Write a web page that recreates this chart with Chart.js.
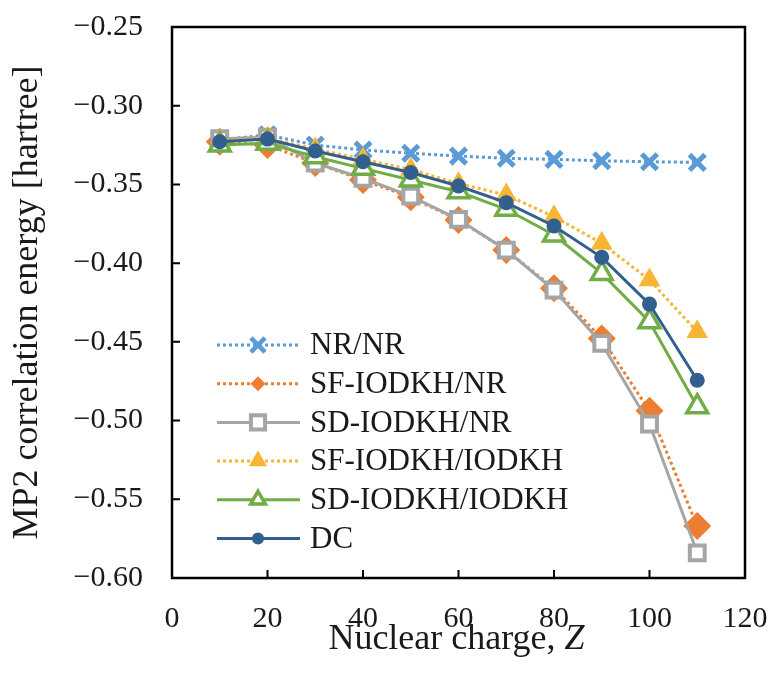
<!DOCTYPE html>
<html>
<head>
<meta charset="utf-8">
<script src="https://cdn.jsdelivr.net/npm/chart.js"></script>
<style>
  html, body { margin: 0; padding: 0; background: #fff; }
  #wrap { width: 771px; height: 673px; }
</style>
</head>
<body>
<div id="wrap"><canvas id="chart" width="771" height="673"></canvas></div>
<script>
// nuclear charge Z and MP2 correlation energies (hartree) per method
const charge = [10, 20, 30, 40, 50, 60, 70, 80, 90, 100, 110];
const nrNr      = [-0.3218, -0.3185, -0.3250, -0.3281, -0.3302, -0.3320, -0.3334, -0.3341, -0.3350, -0.3356, -0.3360];
const sfNr      = [-0.3229, -0.3250, -0.3364, -0.3472, -0.3582, -0.3726, -0.3917, -0.4160, -0.4478, -0.4938, -0.5670];
const sdNr      = [-0.3210, -0.3200, -0.3364, -0.3461, -0.3574, -0.3722, -0.3917, -0.4171, -0.4510, -0.5022, -0.5840];
const sfIodkh   = [-0.3225, -0.3205, -0.3275, -0.3340, -0.3405, -0.3495, -0.3567, -0.3705, -0.3874, -0.4107, -0.4436];
const sdIodkh   = [-0.3250, -0.3239, -0.3324, -0.3398, -0.3472, -0.3546, -0.3658, -0.3821, -0.4065, -0.4372, -0.4912];
const dc        = [-0.3229, -0.3212, -0.3288, -0.3356, -0.3424, -0.3510, -0.3616, -0.3764, -0.3963, -0.4260, -0.4744];

const xTicks = [0, 20, 40, 60, 80, 100, 120];
const yTicks = [-0.25, -0.30, -0.35, -0.40, -0.45, -0.50, -0.55, -0.60];

const serif = "'Liberation Serif', 'Times New Roman', serif";
const textColor = '#1a1a1a';

function pts(arr) {
  return arr.map((v, i) => ({ x: charge[i], y: v }));
}

// series styling: line colour, dash, marker shape, sizes in plot and legend
const series = [
  { label: 'NR/NR', data: nrNr, color: '#5B9BD5', dash: [3, 3], style: 'crossRot',
    radius: 11, bw: 5, fill: '#5B9BD5', lgRadius: 10, lgBw: 4.5 },
  { label: 'SF-IODKH/NR', data: sfNr, color: '#ED7D31', dash: [3, 3], style: 'rectRot',
    radius: 14, bw: 0, fill: '#ED7D31', lgRadius: 7.5, lgBw: 0 },
  { label: 'SD-IODKH/NR', data: sdNr, color: '#A5A5A5', dash: [], style: 'rect',
    radius: 10.5, bw: 4, fill: '#FFFFFF', lgRadius: 10, lgBw: 4 },
  { label: 'SF-IODKH/IODKH', data: sfIodkh, color: '#F6B532', dash: [3, 3], style: 'triangle',
    radius: 12.5, bw: 0, fill: '#F6B532', lgRadius: 10.5, lgBw: 0 },
  { label: 'SD-IODKH/IODKH', data: sdIodkh, color: '#70AD47', dash: [], style: 'triangle',
    radius: 12, bw: 3.5, fill: '#FFFFFF', lgRadius: 8.5, lgBw: 3.5 },
  { label: 'DC', data: dc, color: '#335F8F', dash: [], style: 'circle',
    radius: 7.5, bw: 0, fill: '#335F8F', lgRadius: 6, lgBw: 0 }
];

const datasets = series.map((s, i) => ({
  label: s.label,
  data: pts(s.data),
  borderColor: s.color,
  borderWidth: 3,
  borderDash: s.dash,
  pointStyle: s.style,
  pointRadius: s.radius,
  pointHoverRadius: s.radius,
  pointBorderWidth: s.bw,
  pointBorderColor: s.color,
  pointBackgroundColor: s.fill,
  tension: 0,
  fill: false,
  order: series.length - i
}));

// black box round the plot with short inward tick marks
const framePlugin = {
  id: 'frame',
  beforeDatasetsDraw(chart) {
    const { ctx, chartArea: a, scales } = chart;
    ctx.save();
    ctx.strokeStyle = '#000';
    ctx.lineWidth = 2.5;
    ctx.setLineDash([]);
    ctx.strokeRect(a.left, a.top, a.right - a.left, a.bottom - a.top);
    ctx.lineWidth = 2;
    ctx.beginPath();
    yTicks.forEach(v => {
      const y = scales.y.getPixelForValue(v);
      ctx.moveTo(a.left, y);
      ctx.lineTo(a.left + 8, y);
    });
    xTicks.forEach(v => {
      const x = scales.x.getPixelForValue(v);
      ctx.moveTo(x, a.bottom);
      ctx.lineTo(x, a.bottom - 8);
    });
    ctx.stroke();
    ctx.restore();
  }
};

// x axis title, with the symbol Z set in italics
const xTitlePlugin = {
  id: 'xTitle',
  afterDraw(chart) {
    const { ctx, chartArea: a } = chart;
    const plain = 'Nuclear charge, ';
    const sym = 'Z';
    ctx.save();
    ctx.fillStyle = textColor;
    ctx.textBaseline = 'alphabetic';
    ctx.textAlign = 'left';
    ctx.font = '36px ' + serif;
    const w1 = ctx.measureText(plain).width;
    ctx.font = 'italic 36px ' + serif;
    const w2 = ctx.measureText(sym).width;
    const x = (a.left + a.right) / 2 - (w1 + w2) / 2 - 2;
    const y = 649;
    ctx.font = '36px ' + serif;
    ctx.fillText(plain, x, y);
    ctx.font = 'italic 36px ' + serif;
    ctx.fillText(sym, x + w1, y);
    ctx.restore();
  }
};

// legend block inside the plot area
const legendPlugin = {
  id: 'innerLegend',
  afterDraw(chart) {
    const { ctx } = chart;
    const x0 = 217, x1 = 300, mx = 258, tx = 310;
    const top = 345, step = 38.7;
    ctx.save();
    series.forEach((s, i) => {
      const y = top + i * step;
      ctx.strokeStyle = s.color;
      ctx.lineWidth = 3;
      ctx.setLineDash(s.dash);
      ctx.beginPath();
      ctx.moveTo(x0, y);
      ctx.lineTo(x1, y);
      ctx.stroke();
      ctx.setLineDash([]);
      ctx.fillStyle = s.fill;
      ctx.strokeStyle = s.color;
      ctx.lineWidth = s.lgBw;
      Chart.helpers.drawPoint(ctx, {
        pointStyle: s.style, radius: s.lgRadius, rotation: 0, borderWidth: s.lgBw
      }, mx, y);
      ctx.fillStyle = textColor;
      ctx.font = '31px ' + serif;
      ctx.textAlign = 'left';
      ctx.textBaseline = 'middle';
      ctx.fillText(s.label, tx, y + 1);
    });
    ctx.restore();
  }
};

new Chart(document.getElementById('chart'), {
  type: 'line',
  data: { datasets: datasets },
  options: {
    responsive: false,
    animation: false,
    layout: { padding: { top: 27, right: 26, left: 0, bottom: 0 } },
    plugins: {
      legend: { display: false },
      tooltip: { enabled: false }
    },
    scales: {
      x: {
        type: 'linear',
        min: 0,
        max: 120,
        afterFit: s => { s.height = 95; s.paddingLeft = 0; s.paddingRight = 0; },
        afterBuildTicks: s => { s.ticks = xTicks.map(v => ({ value: v })); },
        grid: { display: false, drawTicks: false },
        border: { display: false },
        ticks: {
          padding: 23,
          color: textColor,
          font: { family: serif, size: 30 },
          maxRotation: 0
        }
      },
      y: {
        type: 'linear',
        min: -0.60,
        max: -0.25,
        afterFit: s => { s.width = 172; s.paddingTop = 0; s.paddingBottom = 0; },
        afterBuildTicks: s => { s.ticks = yTicks.map(v => ({ value: v })); },
        grid: { display: false, drawTicks: false },
        border: { display: false },
        ticks: {
          padding: 29,
          color: textColor,
          font: { family: serif, size: 30 },
          callback: v => '\u2212' + Math.abs(v).toFixed(2)
        },
        title: {
          display: true,
          text: 'MP2 correlation energy [hartree]',
          color: textColor,
          font: { family: serif, size: 36, lineHeight: 1.2 },
          padding: { top: 6, bottom: 0 }
        }
      }
    }
  },
  plugins: [framePlugin, xTitlePlugin, legendPlugin]
});
</script>
</body>
</html>
